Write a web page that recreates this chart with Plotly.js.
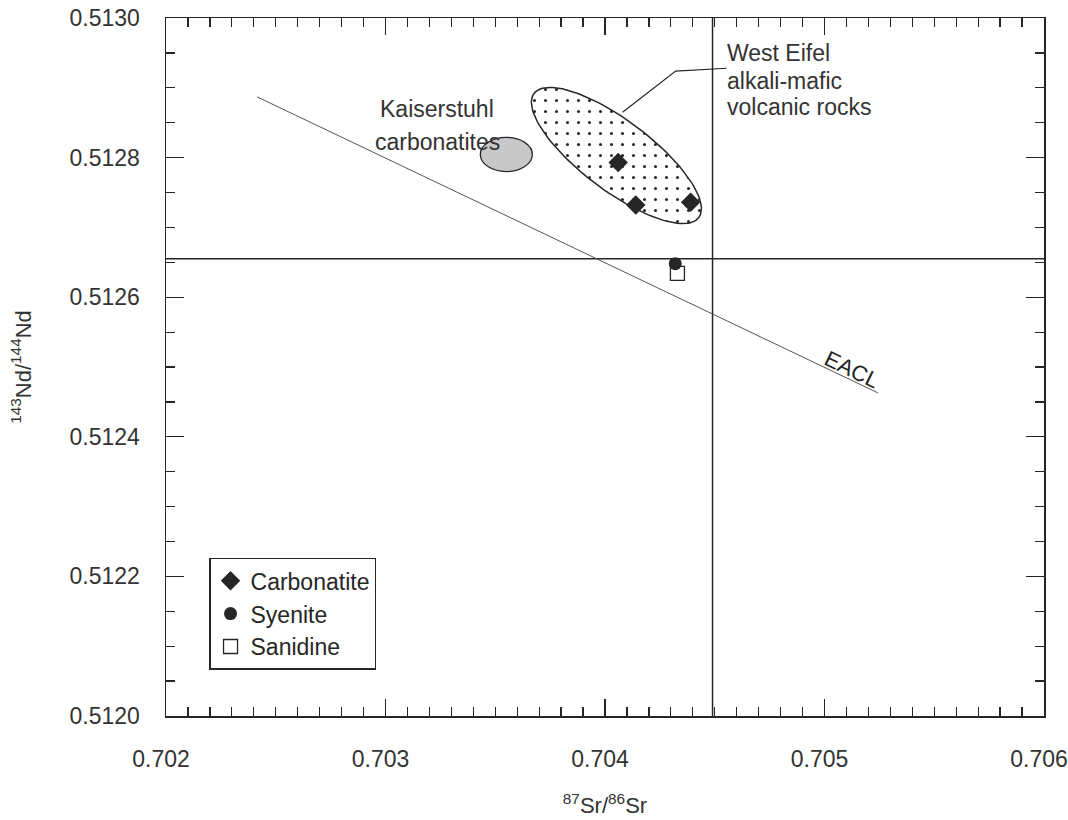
<!DOCTYPE html>
<html>
<head>
<meta charset="utf-8">
<script src="https://cdn.plot.ly/plotly-3.0.1.min.js"></script>
<style>
  html, body { margin: 0; padding: 0; background: #ffffff; }
  #chart { width: 1068px; height: 820px; }
</style>
</head>
<body>
<div id="chart"></div>
<script>
// ---- Data ----
const seriesNames = ["Carbonatite", "Syenite", "Sanidine"];
const carbonatiteSr = [0.70406, 0.70414, 0.70439];
const carbonatiteNd = [0.512793, 0.512732, 0.512736];
const syeniteSr = [0.70432];
const syeniteNd = [0.512648];
const sanidineSr = [0.70433];
const sanidineNd = [0.512634];

// Reference lines (bulk earth) and EACL
const bulkEarthNd = 0.512655;
const bulkEarthSr = 0.70449;
const eaclSr = [0.702415, 0.705243];
const eaclNd = [0.512887, 0.512463];

// Field: Kaiserstuhl carbonatites (axis-aligned ellipse bounds)
const kaiserSr = [0.703432, 0.703669];
const kaiserNd = [0.512780, 0.512829];

// Field: West Eifel alkali-mafic volcanic rocks (centre + conjugate semi-axes)
const eifelCentre = [0.704052, 0.512803];
const eifelAxisU = [0.0003752, -0.0000889];
const eifelAxisV = [-0.0000961, -0.0000401];

// Leader line from West Eifel field to its label
const leaderSr = [0.704080, 0.704322, 0.704554];
const leaderNd = [0.512865, 0.512924, 0.512928];

// Tick labels / tick positions
const xTickVals = [0.702, 0.703, 0.704, 0.705, 0.706];
const xTickText = ["0.702", "0.703", "0.704", "0.705", "0.706"];
const xHalfTickVals = [0.7025, 0.7035, 0.7045, 0.7055];
const yTickVals = [0.5120, 0.5122, 0.5124, 0.5126, 0.5128, 0.5130];
const yTickText = ["0.5120", "0.5122", "0.5124", "0.5126", "0.5128", "0.5130"];

// ---- Build ellipse outline for the West Eifel field ----
const eifelX = [], eifelY = [];
for (let i = 0; i <= 120; i++) {
  const t = 2 * Math.PI * i / 120;
  eifelX.push(eifelCentre[0] + eifelAxisU[0] * Math.cos(t) + eifelAxisV[0] * Math.sin(t));
  eifelY.push(eifelCentre[1] + eifelAxisU[1] * Math.cos(t) + eifelAxisV[1] * Math.sin(t));
}

const ink = "#262626";
const fontFam = "Liberation Sans, Arial, Helvetica, sans-serif";

const traces = [
  {
    x: eifelX, y: eifelY, type: "scatter", mode: "lines",
    fill: "toself", showlegend: false, hoverinfo: "skip",
    line: { color: ink, width: 1.5 },
    fillcolor: "rgba(255,255,255,0)",
    fillpattern: { shape: ".", size: 11, solidity: 0.06, fgcolor: ink, bgcolor: "rgba(255,255,255,0)" }
  },
  {
    x: eaclSr, y: eaclNd, type: "scatter", mode: "lines",
    showlegend: false, hoverinfo: "skip",
    line: { color: "#555555", width: 1 }
  },
  {
    x: leaderSr, y: leaderNd, type: "scatter", mode: "lines",
    showlegend: false, hoverinfo: "skip",
    line: { color: ink, width: 1.2 }
  },
  {
    name: seriesNames[0], x: carbonatiteSr, y: carbonatiteNd,
    type: "scatter", mode: "markers",
    marker: { symbol: "diamond", size: 15, color: ink }
  },
  {
    name: seriesNames[1], x: syeniteSr, y: syeniteNd,
    type: "scatter", mode: "markers",
    marker: { symbol: "circle", size: 13, color: ink }
  },
  {
    name: seriesNames[2], x: sanidineSr, y: sanidineNd,
    type: "scatter", mode: "markers",
    marker: { symbol: "square-open", size: 14, color: ink, line: { width: 1.3, color: ink } }
  }
];

const layout = {
  width: 1068, height: 820,
  margin: { l: 166, r: 24, t: 18, b: 104 },
  paper_bgcolor: "#ffffff", plot_bgcolor: "#ffffff",
  font: { family: fontFam, color: ink, size: 23 },
  showlegend: true,
  legend: {
    x: 0.049, y: 0.2267, xanchor: "left", yanchor: "top",
    bgcolor: "#ffffff", bordercolor: ink, borderwidth: 1.5,
    font: { size: 23, color: ink, family: fontFam },
    tracegroupgap: 0
  },
  xaxis: {
    range: [0.702, 0.706], showgrid: false, zeroline: false,
    showline: true, linecolor: ink, linewidth: 1.5, mirror: "ticks",
    ticks: "inside", ticklen: 17, tickwidth: 1.3, tickcolor: ink,
    tickmode: "array", tickvals: xTickVals, ticktext: xTickText,
    tickfont: { size: 23, color: "#333333" }, ticklabelstandoff: 22,
    ticklabelshift: -5, ticklabeloverflow: "allow",
    minor: { ticks: "inside", ticklen: 9, tickwidth: 1.2, tickcolor: ink, tickmode: "linear", tick0: 0.702, dtick: 0.0001, showgrid: false },
    title: { text: "<sup>87</sup>Sr/<sup>86</sup>Sr", font: { size: 22, color: "#333333" }, standoff: 26 }
  },
  xaxis2: {
    overlaying: "x", matches: "x", anchor: "y", side: "bottom",
    range: [0.702, 0.706], showgrid: false, zeroline: false, showline: false,
    mirror: "ticks", ticks: "inside", ticklen: 17, tickwidth: 1.3, tickcolor: ink,
    tickmode: "array", tickvals: xHalfTickVals, showticklabels: false
  },
  yaxis: {
    range: [0.5120, 0.5130], showgrid: false, zeroline: false,
    showline: true, linecolor: ink, linewidth: 1.5, mirror: "ticks",
    ticks: "inside", ticklen: 18, tickwidth: 1.3, tickcolor: ink,
    tickmode: "array", tickvals: yTickVals, ticktext: yTickText,
    tickfont: { size: 23, color: "#333333" }, ticklabelstandoff: 20,
    minor: { ticks: "inside", ticklen: 9, tickwidth: 1.2, tickcolor: ink, tickmode: "linear", tick0: 0.5120, dtick: 0.00005, showgrid: false },
    title: { text: "<sup>143</sup>Nd/<sup>144</sup>Nd", font: { size: 22, color: "#333333" }, standoff: 32 }
  },
  shapes: [
    { type: "line", xref: "x", yref: "y", x0: 0.702, x1: 0.706, y0: bulkEarthNd, y1: bulkEarthNd, layer: "below", line: { color: ink, width: 1.5 } },
    { type: "line", xref: "x", yref: "y", x0: bulkEarthSr, x1: bulkEarthSr, y0: 0.5120, y1: 0.5130, layer: "below", line: { color: ink, width: 1.5 } },
    { type: "circle", xref: "x", yref: "y", x0: kaiserSr[0], x1: kaiserSr[1], y0: kaiserNd[0], y1: kaiserNd[1], layer: "above", fillcolor: "#c8c8c8", line: { color: ink, width: 1.3 } }
  ],
  annotations: [
    { xref: "x", yref: "y", x: 0.703236, y: 0.512870, text: "Kaiserstuhl", showarrow: false, xanchor: "center", yanchor: "middle", font: { size: 23, color: "#333333" } },
    { xref: "x", yref: "y", x: 0.703236, y: 0.512823, text: "carbonatites", showarrow: false, xanchor: "center", yanchor: "middle", font: { size: 23, color: "#333333" } },
    { xref: "x", yref: "y", x: 0.704545, y: 0.512950, text: "West Eifel", showarrow: false, xanchor: "left", yanchor: "middle", font: { size: 23, color: "#333333" } },
    { xref: "x", yref: "y", x: 0.704545, y: 0.512910, text: "alkali-mafic", showarrow: false, xanchor: "left", yanchor: "middle", font: { size: 23, color: "#333333" } },
    { xref: "x", yref: "y", x: 0.704545, y: 0.512872, text: "volcanic rocks", showarrow: false, xanchor: "left", yanchor: "middle", font: { size: 23, color: "#333333" } },
    { xref: "x", yref: "y", x: 0.705124, y: 0.512496, text: "EACL", showarrow: false, textangle: 26, xanchor: "center", yanchor: "middle", font: { size: 22, color: "#222222" } }
  ]
};

Plotly.newPlot("chart", traces, layout, { displayModeBar: false, staticPlot: true });
</script>
</body>
</html>
